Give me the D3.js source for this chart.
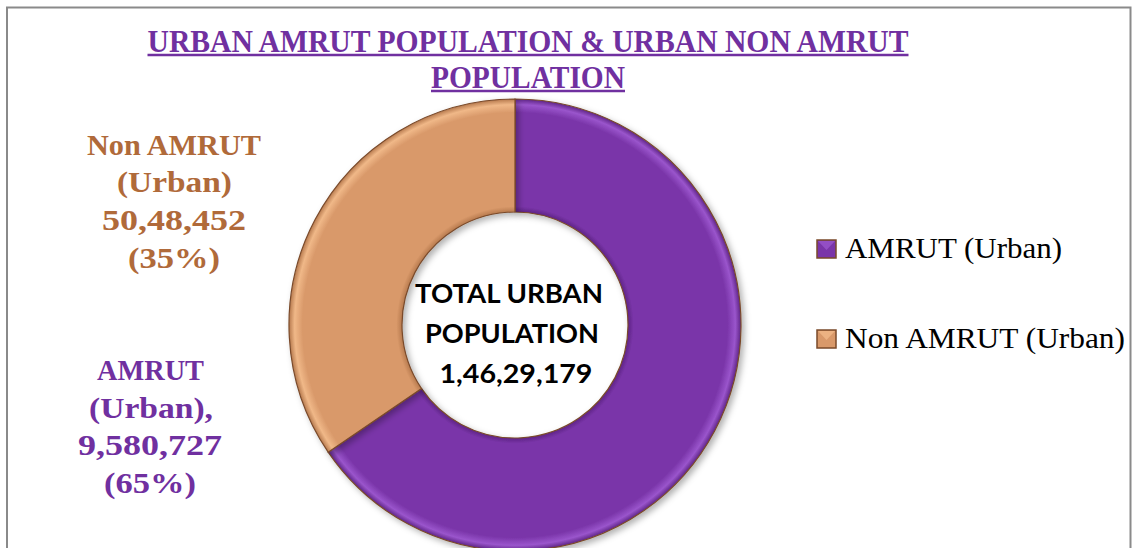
<!DOCTYPE html>
<html>
<head>
<meta charset="utf-8">
<script src="https://cdn.jsdelivr.net/npm/d3@7"></script>
<style>
  html, body { margin: 0; padding: 0; background: #fff; }
  svg { display: block; }
</style>
</head>
<body>
<svg id="chart" width="1133" height="548"></svg>
<script>
// ---- data ----
const categories = ["AMRUT (Urban)", "Non AMRUT (Urban)"];
const values = [9580727, 5048452];
const valueLabels = ["9,580,727", "50,48,452"];
const percentLabels = ["(65%)", "(35%)"];
const titleLines = ["URBAN AMRUT POPULATION & URBAN NON AMRUT", "POPULATION"];
const centerLines = ["TOTAL URBAN", "POPULATION", "1,46,29,179"];
const dataLabelLines = [
  ["AMRUT", "(Urban),", "9,580,727", "(65%)"],
  ["Non AMRUT", "(Urban)", "50,48,452", "(35%)"]
];

// ---- styles ----
const sliceColors = ["#7A35A9", "#D9996A"];
const sliceLight = ["#9A55CC", "#F0B888"];
const sliceDark = ["#5E2486", "#B77A4E"];
const labelColors = ["#7030A0", "#B06A3A"];

const W = 1133, H = 548;
const svg = d3.select("#chart");

// frame
svg.append("path")
  .attr("d", `M7,${H} L7,7.5 L1130.5,7.5 L1130.5,${H}`)
  .attr("fill", "none").attr("stroke", "#8a8a8a").attr("stroke-width", 2);

const defs = svg.append("defs");
const cx = 515, cy = 325, R = 226, r = 113;

// radial gradients giving a soft bevel (in the donut group's local space)
categories.forEach((c, i) => {
  const g = defs.append("radialGradient")
    .attr("id", "grad" + i)
    .attr("gradientUnits", "userSpaceOnUse")
    .attr("cx", 0).attr("cy", 0).attr("r", R);
  g.append("stop").attr("offset", r / R).attr("stop-color", sliceDark[i]);
  g.append("stop").attr("offset", r / R + 0.025).attr("stop-color", sliceColors[i]);
  g.append("stop").attr("offset", 0.94).attr("stop-color", sliceColors[i]);
  g.append("stop").attr("offset", 0.975).attr("stop-color", sliceLight[i]);
  g.append("stop").attr("offset", 1).attr("stop-color", sliceDark[i]);
});

const filt = defs.append("filter").attr("id", "shadow")
  .attr("x", "-10%").attr("y", "-10%").attr("width", "120%").attr("height", "120%");
filt.append("feDropShadow").attr("dx", 3).attr("dy", 3).attr("stdDeviation", 3)
  .attr("flood-color", "#000").attr("flood-opacity", 0.3);

// ---- title ----
const title = svg.append("g");
const titleX = 528;
const titleY = [52, 88];
const titleLen = [761, 194];
titleLines.forEach((t, i) => {
  title.append("text")
    .attr("x", titleX).attr("y", titleY[i])
    .attr("text-anchor", "middle")
    .attr("font-family", "Liberation Serif, serif")
    .attr("font-weight", "bold")
    .attr("font-size", 31)
    .attr("fill", "#7030A0")
    .attr("textLength", titleLen[i])
    .attr("lengthAdjust", "spacingAndGlyphs")
    .text(t);
  title.append("line")
    .attr("x1", titleX - titleLen[i] / 2).attr("x2", titleX + titleLen[i] / 2)
    .attr("y1", titleY[i] + 3).attr("y2", titleY[i] + 3)
    .attr("stroke", "#7030A0").attr("stroke-width", 2.5);
});

// ---- donut ----
const pie = d3.pie().sort(null).value(d => d)(values);
const arc = d3.arc().innerRadius(r).outerRadius(R);
const g = svg.append("g").attr("transform", `translate(${cx},${cy})`);
g.selectAll("path.slice").data(pie).join("path")
  .attr("class", "slice")
  .attr("d", arc)
  .attr("fill", (d, i) => `url(#grad${i})`)
  .attr("stroke", "#7a4a2a")
  .attr("stroke-width", 1.2)
  .attr("filter", "url(#shadow)");

// center text
const centerY = [303, 343, 383];
const centerX = [509, 512, 516];
const centerLen = [188, 174, 153];
centerLines.forEach((t, i) => {
  svg.append("text")
    .attr("x", centerX[i]).attr("y", centerY[i])
    .attr("text-anchor", "middle")
    .attr("font-family", "Lato, 'Open Sans', sans-serif")
    .attr("font-weight", "bold")
    .attr("font-size", 26)
    .attr("fill", "#000")
    .attr("textLength", centerLen[i])
    .attr("lengthAdjust", "spacingAndGlyphs")
    .text(t);
});

// ---- data labels (outside left) ----
const labelPos = [
  { x: [150.5, 151, 150, 150], y: [380, 418, 455, 493], len: [107, 124, 144, 92] },
  { x: [174, 174.5, 174, 174], y: [155, 192, 230, 268], len: [174, 115, 144, 92] }
];
dataLabelLines.forEach((lines, i) => {
  lines.forEach((t, j) => {
    svg.append("text")
      .attr("x", labelPos[i].x[j]).attr("y", labelPos[i].y[j])
      .attr("text-anchor", "middle")
      .attr("font-family", "Liberation Serif, serif")
      .attr("font-weight", "bold")
      .attr("font-size", 30)
      .attr("fill", labelColors[i])
      .attr("textLength", labelPos[i].len[j])
      .attr("lengthAdjust", "spacingAndGlyphs")
      .text(t);
  });
});

// ---- legend ----
const legend = svg.append("g");
const legY = [258, 348];
const legLen = [217, 280];
categories.forEach((c, i) => {
  const lg = legend.append("g").attr("transform", `translate(817,${legY[i]})`);
  lg.append("rect")
    .attr("x", 0).attr("y", -18).attr("width", 19).attr("height", 18)
    .attr("fill", sliceColors[i]).attr("stroke", "#7a4a2a").attr("stroke-width", 1.5);
  lg.append("path")
    .attr("d", "M1,-17 L18,-17 L9.5,-8 Z")
    .attr("fill", sliceLight[i]).attr("opacity", 0.8);
  lg.append("text")
    .attr("x", 28).attr("y", 0)
    .attr("font-family", "Liberation Serif, serif")
    .attr("font-size", 30)
    .attr("fill", "#000")
    .attr("textLength", legLen[i])
    .attr("lengthAdjust", "spacingAndGlyphs")
    .text(c);
});
</script>
</body>
</html>
